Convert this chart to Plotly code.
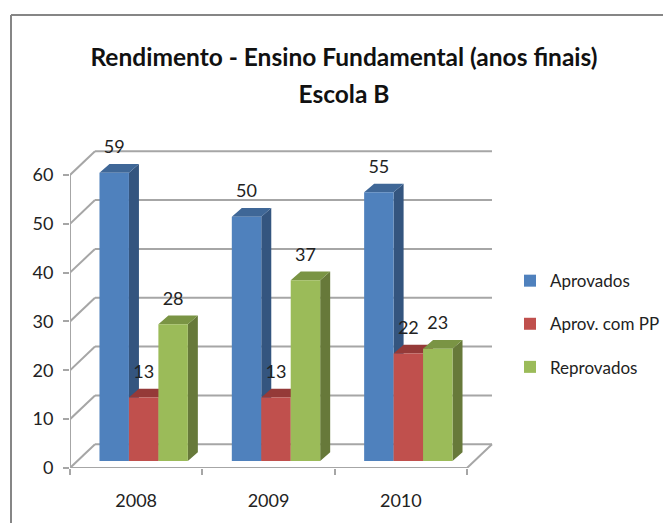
import plotly.graph_objects as go

# ---- data ----
years = ["2008", "2009", "2010"]
series_names = ["Aprovados", "Aprov. com PP", "Reprovados"]
aprovados = [59, 50, 55]
aprov_pp = [13, 13, 22]
reprovados = [28, 37, 23]
y_ticks = [0, 10, 20, 30, 40, 50, 60]
title_lines = ["Rendimento - Ensino Fundamental (anos finais)", "Escola B"]

# ---- style ----
values = [aprovados, aprov_pp, reprovados]
front = ["#4f81bd", "#c0504d", "#9bbb59"]
side = ["#34557f", "#953735", "#67793a"]
top = ["#3f6797", "#953a38", "#7a9444"]
GRID = "#a6a6a6"
TEXT = "#222222"
FONT = "Lato"

W, H = 720, 523                    # page crops to the 663 px window; room keeps the legend from pushing margins
L, R, T, B = 70, 720, 128, 467.7   # plot rectangle in px
UX, UY = 132.33, 4.88              # px per category / per value
X0, Y0 = 77.5, 460.7               # px of bar-plane origin

BAR_W = 0.2226
FRONT_DX, FRONT_DY = -7.5 / UX, -7.0 / UY   # front edge of the floor
BACK_DX, BACK_DY = 17.5 / UX, 16.7 / UY     # back wall
DEPTH_DX, DEPTH_DY = 10 / UX, 8.7 / UY      # bar depth

fig = go.Figure()
n = len(years)
centers = [i + 0.5 for i in range(n)]

for s, vals in enumerate(values):
    sx, sy, tx, ty = [], [], [], []
    for c, v in zip(centers, vals):
        xl = c + (s - 1.5) * BAR_W
        xr = xl + BAR_W
        sx += [xr, xr + DEPTH_DX, xr + DEPTH_DX, xr, xr, None]
        sy += [0, DEPTH_DY, v + DEPTH_DY, v, 0, None]
        tx += [xl, xl + DEPTH_DX, xr + DEPTH_DX, xr, xl, None]
        ty += [v, v + DEPTH_DY, v + DEPTH_DY, v, v, None]
    for px_, py_, col in ((sx, sy, side[s]), (tx, ty, top[s])):
        fig.add_trace(go.Scatter(
            x=px_, y=py_, mode="lines", fill="toself", fillcolor=col,
            line=dict(width=0, color=col), showlegend=False, hoverinfo="skip",
            legendgroup=series_names[s], zorder=s * 2, cliponaxis=False))
    fig.add_trace(go.Bar(
        x=centers, y=vals, name=series_names[s], width=BAR_W,
        offset=(s - 1.5) * BAR_W, marker=dict(color=front[s], line=dict(width=0)),
        legendgroup=series_names[s], zorder=s * 2 + 1, cliponaxis=False))

# data labels
lx, ly, lt = [], [], []
for s, vals in enumerate(values):
    for c, v in zip(centers, vals):
        lx.append(c + (s - 1) * BAR_W)
        ly.append(v + 4.9)
        lt.append(str(v))
fig.add_trace(go.Scatter(
    x=lx, y=ly, text=lt, mode="text", textposition="middle center",
    textfont=dict(family=FONT, size=18, color=TEXT), showlegend=False,
    hoverinfo="skip", zorder=20, cliponaxis=False))

# walls / grid / floor
fx, bx, rfx, rbx = FRONT_DX, BACK_DX, n + FRONT_DX, n + BACK_DX
shapes = []
def seg(x0, y0, x1, y1, w=2):
    shapes.append(dict(type="line", xref="x", yref="y", x0=x0, y0=y0, x1=x1, y1=y1,
                       layer="below", line=dict(color=GRID, width=w)))
for t in y_ticks:
    seg(fx, t + FRONT_DY, bx, t + BACK_DY)
    seg(bx, t + BACK_DY, rbx, t + BACK_DY)
seg(fx, FRONT_DY, fx, y_ticks[-1] + FRONT_DY)
seg(fx, FRONT_DY, rfx, FRONT_DY)
seg(rfx, FRONT_DY, rbx, BACK_DY)

# outer frame (runs off the right and bottom of the picture)
PW, PH = R - L, B - T
def px(v): return (v - L) / PW
def py(v): return (B - v) / PH
for a, b, c, d in ((11, 15, 720, 15), (11, 15, 11, 523)):
    shapes.append(dict(type="line", xref="paper", yref="paper",
                       x0=px(a), y0=py(b), x1=px(c), y1=py(d),
                       line=dict(color="#868686", width=2)))

title_text = "<br>".join(f'<span style="font-size:24.5px">{t}</span>' for t in title_lines)

fig.update_layout(
    width=W, height=H, autosize=False,
    margin=dict(l=L, r=W - R, t=T, b=H - B, pad=0),
    paper_bgcolor="white", plot_bgcolor="rgba(0,0,0,0)",
    barmode="overlay", shapes=shapes,
    font=dict(family=FONT, color=TEXT),
    title=dict(text=title_text, x=344 / W, xanchor="center", y=1 - 66 / H, yanchor="middle",
               font=dict(family=FONT, size=28.5, color="#111111", weight="bold")),
    legend=dict(x=px(510), xanchor="left", y=py(263), yanchor="top",
                xref="paper", yref="paper", tracegroupgap=18, itemwidth=30,
                font=dict(family=FONT, size=17, color=TEXT),
                bgcolor="rgba(0,0,0,0)", borderwidth=0),
    xaxis=dict(
        range=[(L - X0) / UX, (R - X0) / UX], showgrid=False, zeroline=False, showline=False,
        tickmode="array", tickvals=[c + FRONT_DX for c in centers], ticktext=years,
        ticks="", ticklabelstandoff=20, tickfont=dict(family=FONT, size=18, color=TEXT),
        minor=dict(ticks="outside", ticklen=6, tickwidth=2, tickcolor=GRID,
                   tickmode="array", tickvals=[i + FRONT_DX for i in range(n + 1)], showgrid=False),
    ),
    yaxis=dict(
        range=[(Y0 - B) / UY, (Y0 - T) / UY], showgrid=False, zeroline=False, showline=False,
        tickmode="array", tickvals=[t + FRONT_DY for t in y_ticks], ticktext=[str(t) for t in y_ticks],
        ticks="outside", ticklen=6, tickwidth=2, tickcolor=GRID, ticklabelstandoff=6,
        tickfont=dict(family=FONT, size=18, color=TEXT),
    ),
)
fig.write_html("out.html", config=dict(displayModeBar=False),
               post_script="document.body.style.margin='0';document.documentElement.style.overflow='hidden';")
